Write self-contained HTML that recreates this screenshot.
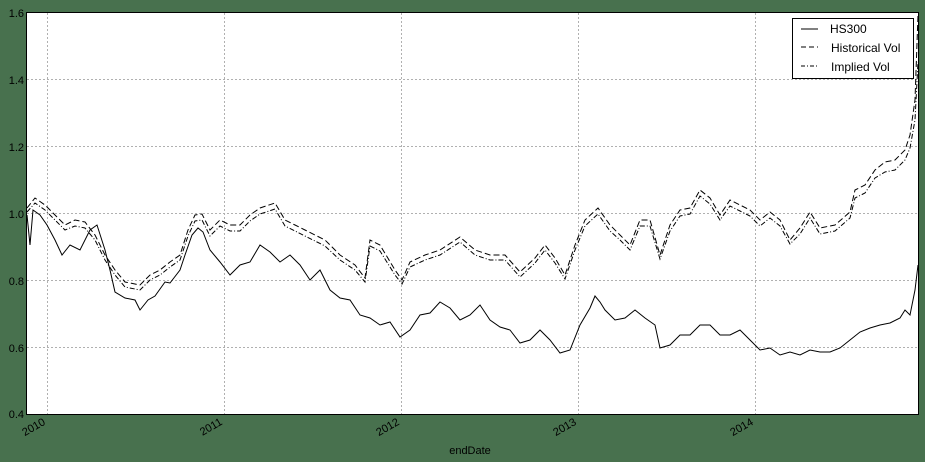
<!DOCTYPE html><html><head><style>body{margin:0;background:#48714e}svg{display:block;font-family:"Liberation Sans","DejaVu Sans",sans-serif}</style></head><body>
<svg width="925" height="462" xmlns="http://www.w3.org/2000/svg">
<rect width="925" height="462" fill="#48714e"/>
<rect x="26.5" y="12.5" width="892" height="402" fill="#fff"/>
<g stroke="#b0b0b0" stroke-dasharray="2,2" stroke-width="1">
<line x1="47.5" y1="13" x2="47.5" y2="414"/><line x1="224.5" y1="13" x2="224.5" y2="414"/><line x1="401.5" y1="13" x2="401.5" y2="414"/><line x1="578.5" y1="13" x2="578.5" y2="414"/><line x1="755.5" y1="13" x2="755.5" y2="414"/>
<line x1="27" y1="79.5" x2="918" y2="79.5"/><line x1="27" y1="146.5" x2="918" y2="146.5"/><line x1="27" y1="213.5" x2="918" y2="213.5"/><line x1="27" y1="280.5" x2="918" y2="280.5"/><line x1="27" y1="347.5" x2="918" y2="347.5"/>
</g>
<g fill="none" stroke="#000" stroke-width="1">
<polyline points="27,215 30,245 33,210 40,215 47,225 55,240 62,255 70,245 80,250 90,230 97,225 105,250 110,270 115,292 125,298 135,300 140,310 148,300 155,296 165,282 170,283 180,270 185,255 192,235 198,228 203,232 210,250 220,262 230,275 240,265 250,262 260,245 270,252 280,262 290,255 300,265 310,280 320,270 330,290 340,298 350,300 360,315 370,318 380,325 390,322 400,337 410,330 420,315 430,313 440,302 450,308 460,320 470,315 480,305 490,320 500,327 510,330 520,343 530,340 540,330 550,340 560,353 570,350 580,325 590,308 595,296 600,302 605,310 615,320 625,318 635,310 645,318 655,325 660,348 670,345 680,335 690,335 700,325 710,325 720,335 730,335 740,330 750,340 760,350 770,348 780,355 790,352 800,355 810,350 820,352 830,352 840,348 850,340 860,332 870,328 880,325 890,323 900,318 905,310 910,315 915,290 918,265"/>
<polyline stroke-dasharray="6,3" points="27,208 35,198 45,205 55,215 65,225 75,220 85,222 95,235 105,255 115,270 125,282 140,285 150,275 160,270 170,262 180,255 188,230 195,215 202,214 210,230 220,220 230,225 240,225 250,215 260,208 275,203 285,220 295,225 305,230 315,235 325,240 340,255 355,265 365,278 370,240 380,245 395,270 402,280 410,262 425,255 440,250 460,237 475,250 490,255 505,255 520,272 535,258 545,245 555,258 565,275 575,245 585,220 598,208 610,225 620,235 630,245 640,220 650,220 660,255 670,225 680,210 690,208 700,190 710,198 720,215 730,200 740,205 750,210 760,220 770,212 780,220 790,240 800,228 810,212 820,228 835,225 850,212 855,190 865,185 875,170 885,162 895,160 905,150 910,135 915,100 918,15"/>
<polyline stroke-dasharray="5,2,1,2" points="27,212 35,203 45,210 55,220 65,230 75,226 85,228 95,240 105,260 115,275 125,287 140,290 150,280 160,275 170,267 180,260 188,236 195,221 202,220 210,236 220,226 230,231 240,231 250,221 260,214 275,209 285,226 295,231 305,236 315,241 325,246 340,260 355,270 365,282 370,246 380,251 395,275 402,284 410,267 425,260 440,255 460,242 475,255 490,260 505,260 520,277 535,263 545,250 555,263 565,279 575,250 585,226 598,214 610,231 620,240 630,250 640,226 650,226 660,259 670,231 680,216 690,214 700,196 710,204 720,220 730,206 740,211 750,216 760,226 770,218 780,226 790,244 800,234 810,218 820,234 835,231 850,218 855,198 865,193 875,178 885,172 895,170 905,160 910,148 915,120 918,62"/>
</g>
<rect x="26.5" y="12.5" width="892" height="402" fill="none" stroke="#000" stroke-width="1"/>
<g fill="#000" font-size="11" text-anchor="end">
<text x="24" y="17">1.6</text><text x="24" y="84">1.4</text><text x="24" y="151">1.2</text><text x="24" y="218">1.0</text><text x="24" y="285">0.8</text><text x="24" y="352">0.6</text><text x="24" y="418">0.4</text>
</g>
<g fill="#000" font-size="11" text-anchor="end">
<text transform="translate(46,424) rotate(-30)">2010</text><text transform="translate(223,424) rotate(-30)">2011</text><text transform="translate(400,424) rotate(-30)">2012</text><text transform="translate(577,424) rotate(-30)">2013</text><text transform="translate(754,424) rotate(-30)">2014</text>
</g>
<text x="470" y="454" font-size="11" text-anchor="middle">endDate</text>
<rect x="792.5" y="18.5" width="121" height="60" fill="#fff" stroke="#000"/>
<g stroke="#000" fill="none">
<line x1="801" y1="29" x2="818" y2="29"/>
<line x1="801" y1="47" x2="818" y2="47" stroke-dasharray="5,3"/>
<line x1="801" y1="66" x2="818" y2="66" stroke-dasharray="4,2,1,2"/>
</g>
<g font-size="12" fill="#000"><text x="830" y="33">HS300</text><text x="831" y="52">Historical Vol</text><text x="831" y="71">Implied Vol</text></g>
</svg></body></html>
